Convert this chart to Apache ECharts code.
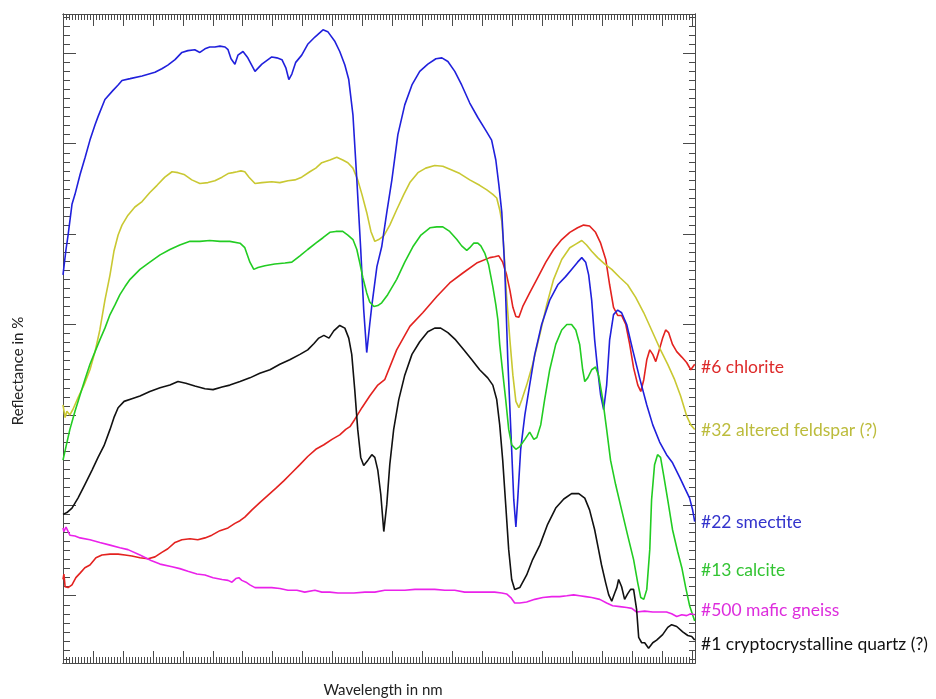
<!DOCTYPE html>
<html><head><meta charset="utf-8">
<script src="https://cdn.jsdelivr.net/npm/echarts@6/dist/echarts.min.js"></script>
<style>html,body{margin:0;padding:0;background:#fff}#c{width:936px;height:699px}</style>
</head><body><div id="c"></div>
<script>
// ---------- data (wavelength in nm, reflectance in %, offset spectra) ----------
const chloriteWl = [400,403,407,417,430,443,457,473,490,510,530,557,584,607,630,657,684,707,730,750,774,797,824,850,874,897,924,951,974,991,1007,1031,1057,1084,1111,1137,1164,1191,1217,1244,1271,1298,1324,1344,1358,1374,1398,1424,1451,1474,1514,1558,1601,1648,1691,1735,1781,1825,1841,1855,1868,1881,1892,1902,1912,1922,1935,1958,1985,2012,2038,2065,2092,2118,2138,2158,2178,2195,2212,2225,2238,2252,2265,2279,2292,2305,2319,2329,2339,2349,2359,2369,2379,2389,2402,2412,2422,2435,2449,2466,2482,2496,2509];
const chloriteR = [1.8,2.4,1.0,0.9,1.2,2.0,2.5,3.1,3.4,4.2,4.5,4.6,4.6,4.5,4.4,4.2,4.1,4.3,4.8,5.2,5.9,6.2,6.3,6.2,6.4,6.7,7.2,7.5,8.0,8.3,8.7,9.5,10.3,11.1,11.9,12.7,13.6,14.5,15.4,16.2,16.7,17.3,17.8,18.4,18.7,19.5,20.8,22.1,23.3,23.9,27.2,29.8,31.3,33.1,34.6,35.7,36.8,37.4,37.5,37.6,36.9,35.5,33.8,31.9,30.9,30.8,32.0,33.5,35.2,36.9,38.3,39.4,40.2,40.7,41.0,40.9,40.2,39.0,37.2,34.4,31.9,31.0,31.0,30.0,27.8,25.2,23.3,22.6,23.9,26.1,27.2,26.7,25.9,27.0,28.5,29.4,29.1,27.8,27.0,26.4,25.8,25.0,25.6];

const feldsparWl = [400,407,413,423,433,450,470,490,507,523,540,557,570,584,597,617,640,664,690,714,740,764,784,804,830,857,884,907,931,951,967,981,994,1007,1021,1041,1064,1097,1124,1151,1174,1197,1224,1244,1264,1291,1314,1334,1351,1368,1384,1398,1414,1428,1441,1454,1471,1491,1514,1538,1558,1585,1611,1641,1668,1698,1725,1758,1791,1815,1835,1848,1858,1865,1872,1881,1892,1902,1912,1922,1932,1948,1968,1992,2015,2038,2065,2092,2112,2132,2148,2165,2185,2208,2232,2259,2285,2312,2339,2365,2392,2419,2442,2462,2482,2496,2509];
const feldsparR = [21.1,19.7,20.4,20.0,20.6,21.9,23.3,25.0,27.0,29.4,32.7,35.5,38.1,39.9,41.0,42.1,43.0,43.6,44.6,45.4,46.3,46.9,46.8,46.6,46.0,45.6,45.7,45.9,46.3,46.7,46.8,46.9,47.0,46.9,46.3,45.6,45.7,45.8,45.7,45.9,46.0,46.3,46.9,47.3,47.9,48.2,48.5,48.2,47.9,47.3,46.0,44.4,42.4,40.3,39.2,39.4,39.8,41.0,42.7,44.4,45.7,46.8,47.3,47.6,47.5,47.1,46.7,46.0,45.4,44.9,44.4,44.0,42.7,41.4,38.3,33.1,28.3,24.4,21.5,20.8,21.7,23.3,25.6,28.9,32.2,35.0,37.2,38.5,38.9,39.3,38.8,38.1,37.4,36.7,36.1,35.2,34.4,33.0,31.3,29.4,27.4,25.6,23.9,22.1,19.9,18.9,18.4];

const smectiteWl = [400,410,417,430,440,457,474,490,507,517,540,567,584,597,624,664,707,730,750,774,797,817,840,857,874,890,907,924,941,951,961,974,984,1001,1017,1041,1064,1097,1114,1131,1144,1154,1164,1177,1197,1217,1241,1268,1284,1308,1324,1341,1354,1368,1381,1394,1404,1414,1424,1431,1448,1464,1481,1498,1518,1541,1565,1591,1618,1645,1665,1685,1708,1731,1758,1785,1811,1831,1845,1855,1865,1875,1885,1895,1905,1912,1918,1928,1942,1958,1975,1998,2025,2052,2078,2098,2118,2132,2145,2155,2165,2175,2185,2195,2205,2215,2225,2238,2252,2265,2282,2302,2325,2349,2369,2392,2415,2435,2459,2476,2492,2502,2509];
const smectiteR = [35.5,38.3,39.9,43.3,44.4,46.6,48.5,50.4,52.1,53.0,54.9,55.9,56.5,57.0,57.2,57.5,57.9,58.3,58.7,59.3,60.1,60.3,60.4,60.1,60.5,60.7,60.7,60.8,60.7,60.4,59.4,58.8,59.8,60.2,59.5,58.0,58.8,59.6,59.5,59.3,58.4,57.1,57.7,59.0,59.8,61.0,61.8,62.6,62.4,61.3,60.2,58.7,57.1,53.2,46.0,38.3,31.6,26.9,30.0,32.1,36.4,38.6,42.4,46.0,51.0,54.3,56.5,58.0,58.8,59.4,59.5,59.1,58.0,56.5,54.5,52.9,51.5,50.4,48.2,45.5,42.4,36.1,26.1,18.4,10.6,7.6,10.6,16.2,20.0,23.3,26.7,30.0,32.7,34.4,35.3,36.1,36.9,37.4,36.9,35.5,32.7,28.3,25.0,22.2,20.6,23.3,28.3,31.1,31.6,31.3,30.0,27.2,24.1,21.1,18.9,17.0,15.6,14.7,13.1,11.9,10.8,9.5,8.2];

const calciteWl = [400,410,423,440,457,473,490,507,523,540,557,574,590,607,624,657,690,724,757,790,824,857,890,924,957,991,1007,1024,1037,1051,1074,1107,1141,1164,1191,1217,1244,1268,1291,1311,1334,1351,1368,1381,1391,1401,1414,1424,1438,1451,1464,1484,1514,1541,1568,1595,1625,1648,1668,1691,1715,1731,1748,1758,1771,1785,1795,1808,1821,1835,1845,1852,1858,1868,1878,1888,1898,1912,1925,1942,1958,1972,1982,1995,2008,2025,2045,2065,2082,2098,2112,2125,2135,2142,2152,2165,2178,2188,2202,2215,2228,2245,2265,2285,2305,2319,2329,2339,2349,2359,2365,2375,2385,2395,2405,2419,2435,2452,2466,2479,2492,2502,2509];
const calciteR = [15.0,16.5,18.4,20.4,22.2,23.9,25.6,27.0,28.3,29.6,31.1,32.2,33.3,34.2,35.0,36.1,36.9,37.7,38.3,38.8,39.2,39.2,39.3,39.2,39.2,39.0,38.5,36.9,36.1,36.3,36.5,36.7,36.8,36.9,37.6,38.3,39.0,39.6,40.2,40.3,40.3,39.9,39.4,38.3,36.8,35.2,33.5,32.5,32.0,32.1,32.4,33.3,35.0,36.9,38.6,39.9,40.7,40.8,40.8,40.3,39.4,38.7,38.2,38.5,39.0,39.0,38.7,37.9,36.6,34.2,32.2,30.5,27.8,24.7,21.7,18.4,16.7,16.2,16.5,17.3,18.1,17.3,17.5,18.9,21.7,25.0,27.8,29.4,30.0,30.0,29.4,27.8,25.0,23.7,24.1,25.0,25.3,24.4,21.7,18.4,15.0,12.3,9.5,6.7,4.0,1.4,-0.2,-0.4,0.7,5.1,10.6,14.5,15.6,15.3,13.4,10.6,7.3,4.9,3.1,0.9,-1.1,-2.1,-2.8];

const gneissWl = [400,403,410,423,440,457,490,523,557,590,617,657,694,724,764,790,817,847,874,901,931,951,964,977,987,997,1011,1024,1041,1067,1097,1124,1151,1181,1207,1241,1264,1291,1318,1344,1371,1408,1441,1474,1508,1541,1575,1608,1641,1675,1708,1741,1775,1808,1841,1865,1881,1895,1908,1925,1948,1975,2002,2032,2058,2082,2105,2125,2145,2165,2192,2215,2235,2259,2282,2299,2315,2342,2369,2392,2415,2432,2449,2466,2482,2496,2509];
const gneissR = [7.5,7.1,7.6,6.7,6.6,6.4,6.2,5.9,5.6,5.3,5.1,4.5,3.9,3.5,3.2,3.0,2.7,2.4,2.3,2.0,1.8,1.7,1.5,1.9,2.0,1.7,1.5,1.2,0.9,0.9,0.9,0.8,0.6,0.6,0.4,0.6,0.4,0.4,0.3,0.3,0.3,0.4,0.4,0.6,0.6,0.6,0.7,0.7,0.7,0.6,0.6,0.4,0.4,0.4,0.4,0.3,0.2,-0.2,-0.8,-0.8,-0.7,-0.4,-0.2,-0.1,-0.1,0.0,0.1,0.0,-0.1,-0.2,-0.4,-0.8,-1.1,-1.2,-1.3,-1.4,-1.8,-1.7,-1.8,-1.8,-1.8,-2.0,-2.3,-2.1,-2.2,-2.0,-2.1];

const quartzWl = [400,413,430,450,473,497,517,537,557,570,584,604,630,657,690,724,757,784,810,840,874,901,931,957,991,1024,1057,1091,1124,1157,1191,1217,1238,1254,1271,1288,1304,1324,1341,1354,1364,1374,1384,1394,1404,1418,1431,1441,1451,1461,1471,1481,1491,1504,1521,1541,1565,1591,1618,1641,1661,1685,1711,1738,1765,1791,1818,1835,1848,1858,1868,1878,1888,1898,1908,1925,1948,1968,1992,2018,2045,2072,2098,2122,2142,2158,2175,2188,2198,2212,2222,2232,2242,2249,2255,2265,2275,2285,2295,2305,2315,2322,2332,2342,2355,2369,2382,2402,2419,2432,2449,2469,2486,2499,2509];
const quartzR = [9.0,9.2,9.7,10.8,12.3,13.9,15.3,16.6,18.4,19.7,20.8,21.5,21.8,22.1,22.6,23.0,23.3,23.7,23.5,23.2,22.9,22.8,23.1,23.3,23.7,24.1,24.6,25.0,25.6,26.1,26.7,27.2,27.9,28.5,28.8,28.5,29.3,29.9,29.6,28.5,26.7,22.8,18.4,15.3,14.4,15.0,15.6,15.3,13.9,11.2,7.1,10.1,14.5,18.4,21.7,24.4,26.7,28.1,29.2,29.6,29.6,29.1,28.3,27.2,26.1,25.0,24.1,23.3,21.7,18.9,15.0,10.1,5.1,1.8,0.7,0.9,2.3,4.0,5.6,7.9,9.7,10.7,11.3,11.3,10.8,9.5,7.3,5.1,3.4,1.4,0.1,-0.6,0.3,0.9,1.8,1.0,-0.4,0.2,0.7,0.7,-1.5,-4.6,-5.2,-5.2,-5.8,-5.2,-4.9,-4.3,-3.5,-3.2,-3.4,-4.0,-4.4,-4.5,-4.9];

const seriesNames = ['#6 chlorite', '#32 altered feldspar (?)', '#22 smectite', '#13 calcite', '#500 mafic gneiss', '#1 cryptocrystalline quartz (?)'];
const xTitle = 'Wavelength in nm';
const yTitle = 'Reflectance in %';

// ---------- chart ----------
const X_MIN = 400, X_MAX = 2510, Y_MIN = -7.44, Y_MAX = 64.35;
const xMajor = [], xMinor = [], yMajor = [], yMinor = [];
for (let v = 400; v <= 2500; v += 100) xMajor.push(v);
for (let v = 410; v <= 2500; v += 10) if (v % 100 !== 0) xMinor.push(v);
for (let v = 0; v <= 60; v += 10) yMajor.push(v);
for (let v = -7; v <= 64; v += 1) if (v % 10 !== 0) yMinor.push(v);

const axisColor = '#4a4a4a';
function ax(pos, min, max, vals, len) {
  return {
    type: 'value', position: pos, min: min, max: max,
    axisLine: { show: true, onZero: false, lineStyle: { color: axisColor, width: 1 } },
    axisTick: { show: true, inside: true, length: len, customValues: vals, lineStyle: { color: axisColor, width: 1 } },
    axisLabel: { show: false }, splitLine: { show: false }
  };
}

const pairs = (w, r) => w.map((x, i) => [x, r[i]]);
const colors = ['#e3221f', '#c9c832', '#2020dc', '#22cc22', '#ea22ea', '#111111'];
const dataSets = [
  pairs(chloriteWl, chloriteR), pairs(feldsparWl, feldsparR), pairs(smectiteWl, smectiteR),
  pairs(calciteWl, calciteR), pairs(gneissWl, gneissR), pairs(quartzWl, quartzR)
];
const labelColors = ['#dd2a2a', '#bcbc3c', '#3333cc', '#33c433', '#dd2ddd', '#111111'];
const labelY = [367, 430, 522, 570, 610, 644];

const chart = echarts.init(document.getElementById('c'), null, { renderer: 'canvas' });
chart.setOption({
  animation: false,
  backgroundColor: '#fff',
  grid: { left: 63, top: 14, width: 632, height: 649 },
  xAxis: [
    ax('bottom', X_MIN, X_MAX, xMajor, 12), ax('bottom', X_MIN, X_MAX, xMinor, 6),
    ax('top', X_MIN, X_MAX, xMajor, 12), ax('top', X_MIN, X_MAX, xMinor, 6)
  ],
  yAxis: [
    ax('left', Y_MIN, Y_MAX, yMajor, 13), ax('left', Y_MIN, Y_MAX, yMinor, 7),
    ax('right', Y_MIN, Y_MAX, yMajor, 12), ax('right', Y_MIN, Y_MAX, yMinor, 6)
  ],
  series: dataSets.map((d, i) => ({
    type: 'line', name: seriesNames[i], data: d, xAxisIndex: 0, yAxisIndex: 0,
    showSymbol: false, smooth: false, lineStyle: { color: colors[i], width: 1.6 },
    z: 2 + i
  })),
  graphic: seriesNames.map((t, i) => ({
    type: 'text', x: 701, y: labelY[i],
    style: { text: t, fill: labelColors[i], font: '17.5px Lato', verticalAlign: 'middle', align: 'left' }
  })).concat([
    { type: 'text', x: 383, y: 690, style: { text: xTitle, fill: '#222', font: '15px Lato', align: 'center', verticalAlign: 'middle' } },
    { type: 'text', x: 18, y: 371, rotation: Math.PI / 2, style: { text: yTitle, fill: '#222', font: '15px Lato', align: 'center', verticalAlign: 'middle' } }
  ])
});
</script></body></html>
